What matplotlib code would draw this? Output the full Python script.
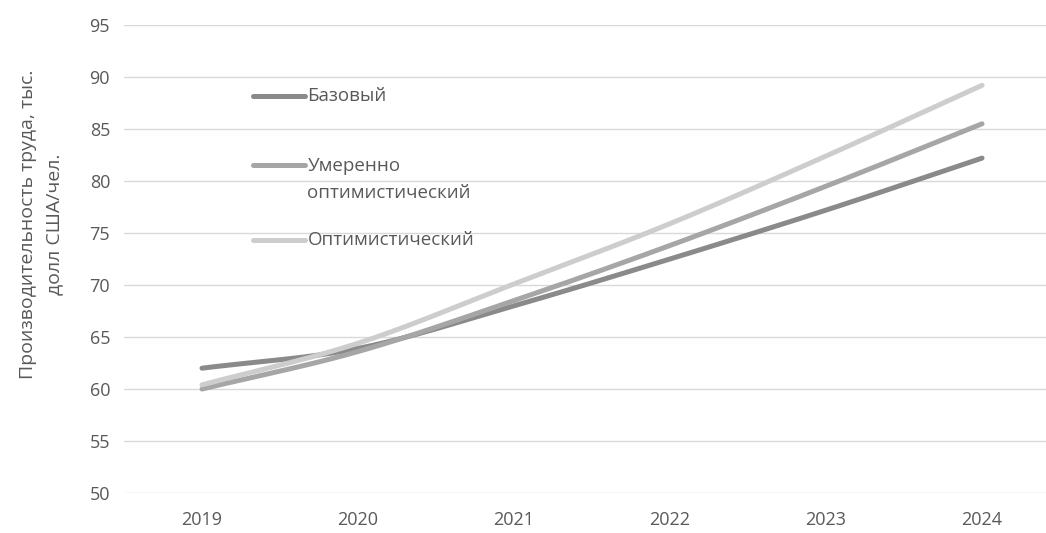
import numpy as np
import matplotlib
matplotlib.use("Agg")
import matplotlib.pyplot as plt
from matplotlib.lines import Line2D

years = ["2019", "2020", "2021", "2022", "2023", "2024"]
base = [62.0, 63.9, 68.0, 72.5, 77.2, 82.2]
moderate = [60.0, 63.6, 68.5, 73.8, 79.5, 85.5]
optimistic = [60.4, 64.4, 70.1, 75.9, 82.4, 89.2]

names = ["Базовый", "Умеренно\nоптимистический", "Оптимистический"]
colors = ["#8a8a8a", "#a6a6a6", "#cdcdcd"]
text_color = "#595959"

plt.rcParams["font.family"] = ["Open Sans", "DejaVu Sans"]


def smooth(x, y, n=30):
    # catmull-rom curve through the points, like the smoothed lines in Excel
    x = np.asarray(x, float)
    y = np.asarray(y, float)
    px = np.concatenate([[2 * x[0] - x[1]], x, [2 * x[-1] - x[-2]]])
    py = np.concatenate([[2 * y[0] - y[1]], y, [2 * y[-1] - y[-2]]])
    xs, ys = [], []
    t = np.linspace(0, 1, n)
    for i in range(1, len(px) - 2):
        for p, out in ((px, xs), (py, ys)):
            p0, p1, p2, p3 = p[i - 1], p[i], p[i + 1], p[i + 2]
            out.extend(0.5 * ((2 * p1) + (-p0 + p2) * t
                              + (2 * p0 - 5 * p1 + 4 * p2 - p3) * t ** 2
                              + (-p0 + 3 * p1 - 3 * p2 + p3) * t ** 3))
    return np.array(xs), np.array(ys)


fig = plt.figure(figsize=(10.46, 5.33), dpi=100)
ax = fig.add_axes([124 / 1046, 40 / 533, 922 / 1046, 468 / 533])

x = np.arange(len(years))
for series, color in zip([base, moderate, optimistic], colors):
    sx, sy = smooth(x, series)
    ax.plot(sx, sy, color=color, lw=3.6, solid_capstyle="round", zorder=3)

ax.set_xlim(-0.5, 5.41)
ax.set_ylim(50, 95)
ax.set_yticks(range(50, 96, 5))
ax.set_xticks(x)
ax.set_xticklabels(years)
ax.grid(axis="y", color="#d9d9d9", lw=1)
ax.set_axisbelow(True)
for s in ax.spines.values():
    s.set_visible(False)
ax.tick_params(length=0, colors=text_color, labelsize=13, pad=10)
ax.tick_params(axis="x", pad=13)

ax.set_ylabel("Производительность труда, тыс.\nдолл США/чел.",
              color=text_color, fontsize=14, linespacing=1.6, va="center")
ax.yaxis.set_label_coords(-0.09, 0.575)

# legend drawn by hand so the handle sits on the first line of a wrapped label
legend_y = [0.848, 0.701, 0.541]
for name, color, ly in zip(names, colors, legend_y):
    ax.add_line(Line2D([0.140, 0.196], [ly, ly], transform=ax.transAxes,
                       color=color, lw=3.6, solid_capstyle="round"))
    ax.text(0.199, ly + (0.018 if "\n" in name else 0), name,
            transform=ax.transAxes, color=text_color, fontsize=13.5,
            va="top" if "\n" in name else "center", linespacing=1.65)

fig.savefig("out.png", dpi=100)
